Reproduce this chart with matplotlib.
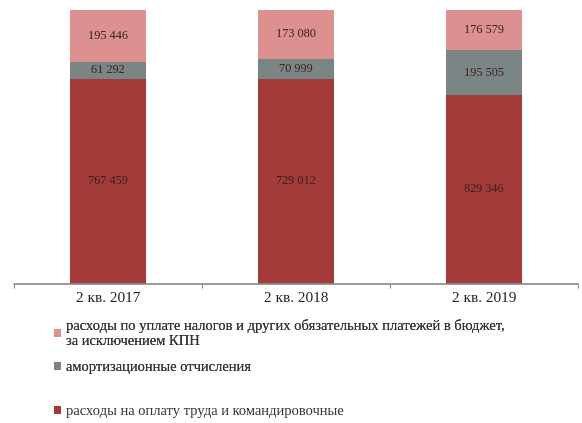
import matplotlib.pyplot as plt
import numpy as np

plt.rcParams['font.family'] = ['Liberation Serif', 'DejaVu Serif']

categories = ['2 кв. 2017', '2 кв. 2018', '2 кв. 2019']
labor = [767459, 729012, 829346]        # расходы на оплату труда
amort = [61292, 70999, 195505]          # амортизационные отчисления
taxes = [195446, 173080, 176579]        # налоги и обязательные платежи

series_names = [
    'расходы по уплате налогов и других обязательных платежей в бюджет,\nза исключением КПН',
    'амортизационные отчисления',
    'расходы на оплату труда и командировочные',
]
colors = ['#a33b3b', '#7b8585', '#dc9090']

labor = np.array(labor, dtype=float)
amort = np.array(amort, dtype=float)
taxes = np.array(taxes, dtype=float)
total = labor + amort + taxes

fig = plt.figure(figsize=(5.82, 4.23), dpi=100)
ax = fig.add_axes([14 / 582, 1 - 284 / 423, 564 / 582, 274 / 423])

x = np.arange(len(categories))
w = 0.4
bottom = np.zeros(len(categories))
bars = []
for vals, col in zip([labor, amort, taxes], colors):
    share = vals / total
    b = ax.bar(x, share, w, bottom=bottom, color=col)
    for xi, bt, sh, v in zip(x, bottom, share, vals):
        ax.text(xi, bt + sh / 2, f'{int(v):,}'.replace(',', ' '),
                ha='center', va='center', fontsize=8.8, color='#3a2020')
    bottom += share
    bars.append(b)

ax.set_xlim(-0.5, 2.5)
ax.set_ylim(0, 1)
ax.set_yticks([])
for s in ['top', 'left', 'right']:
    ax.spines[s].set_visible(False)
ax.spines['bottom'].set_color('#8a8a8a')
ax.spines['bottom'].set_linewidth(1.2)
ax.set_xticks([-0.5, 0.5, 1.5, 2.5])
ax.set_xticklabels([])
ax.set_xticks(x, minor=True)
ax.set_xticklabels(categories, minor=True, fontsize=11, color='#222222')
ax.tick_params(axis='x', which='major', length=3, color='#8a8a8a', direction='out')
ax.tick_params(axis='x', which='minor', length=0, pad=6)

leg_kw = dict(frameon=False, fontsize=10.5, handlelength=0.5, handleheight=0.5,
              handletextpad=0.3, borderaxespad=0, labelcolor='#333333')
leg1 = fig.legend([bars[2], bars[1]], [series_names[0], series_names[1]],
                  loc='upper left', bbox_to_anchor=(48 / 582, 1 - 313 / 423),
                  labelspacing=0.9, **leg_kw)
fig.legend([bars[0]], [series_names[2]],
           loc='upper left', bbox_to_anchor=(48 / 582, 1 - 399 / 423), **leg_kw)
fig.add_artist(leg1)

plt.savefig('out.png', dpi=100)
